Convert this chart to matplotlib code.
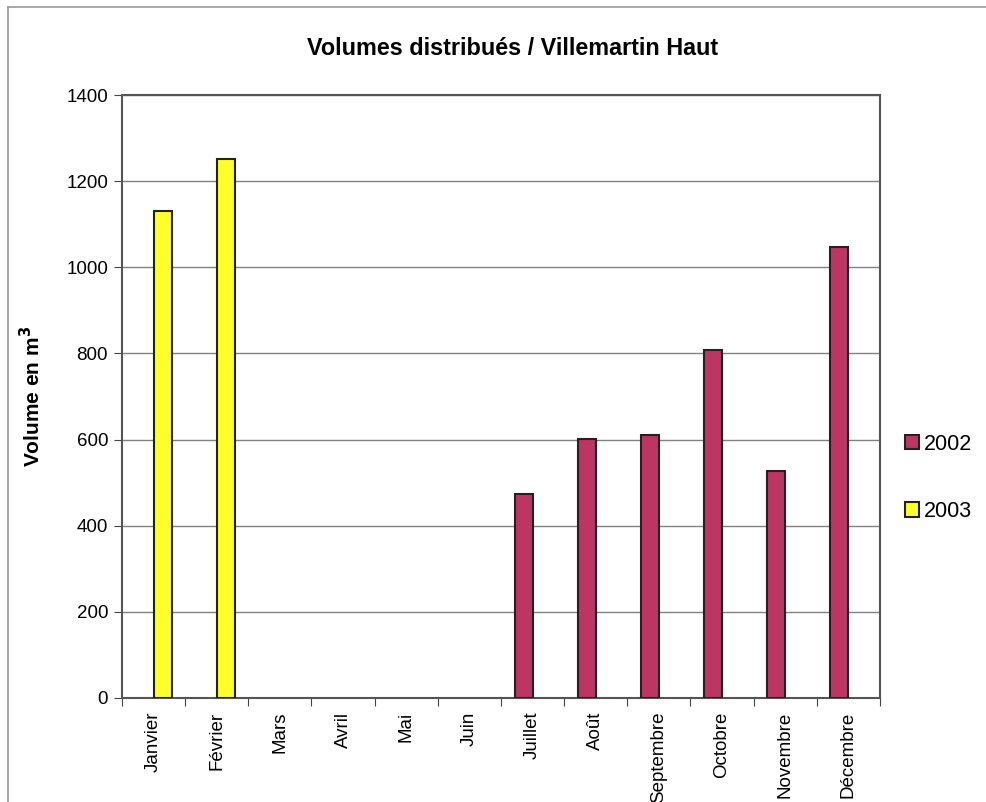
import numpy as np
from matplotlib import pyplot as plt
from matplotlib.lines import Line2D

plt.rcParams['font.family'] = ['Liberation Sans', 'DejaVu Sans']

#months on the x axis
months = ['Janvier', 'Février', 'Mars', 'Avril', 'Mai', 'Juin',
          'Juillet', 'Août', 'Septembre', 'Octobre', 'Novembre', 'Décembre']
#volumes per year (0 = no data)
vol2002 = [0, 0, 0, 0, 0, 0, 474, 601, 611, 808, 528, 1047]
vol2003 = [1131, 1251, 0, 0, 0, 0, 0, 0, 0, 0, 0, 0]
yticks = [0, 200, 400, 600, 800, 1000, 1200, 1400]

fig = plt.figure(figsize=(9.86, 8.02), dpi=100)
ax = fig.add_axes([0.1237, 0.1297, 0.7688, 0.7518])

x = np.arange(len(months))
w = 0.285
#only draw bars that have a value
for i in range(len(months)):
    if vol2002[i] > 0:
        ax.bar(x[i] - w / 2, vol2002[i], width=w, color='#BC3563',
               edgecolor='#222222', linewidth=1.5, zorder=3)
    if vol2003[i] > 0:
        ax.bar(x[i] + w / 2, vol2003[i], width=w, color='#FFFF2A',
               edgecolor='#222222', linewidth=1.5, zorder=3)

ax.set_xlim(-0.5, 11.5)
ax.set_ylim(0, 1400)
ax.set_yticks(yticks)
ax.set_yticklabels([str(v) for v in yticks], fontsize=13.5)
ax.yaxis.grid(True, color='#808080', linewidth=1.0, zorder=0)

#ticks between the months, labels in the middle
ax.set_xticks(np.arange(-0.5, 12, 1))
ax.set_xticklabels([])
ax.set_xticks(x, minor=True)
ax.set_xticklabels(months, minor=True, rotation=90, fontsize=13.5)
ax.tick_params(axis='x', which='minor', length=0, pad=10)
ax.tick_params(axis='x', which='major', length=6, color='#444444', direction='out')
ax.tick_params(axis='y', length=6, color='#444444', direction='out', pad=4)

for s in ax.spines.values():
    s.set_color('#555555')
    s.set_linewidth(1.5)

ax.set_ylabel('Volume en m$^\\mathbf{3}$', fontsize=15, fontweight='bold', labelpad=16)
fig.text(0.520, 0.940, 'Volumes distribués / Villemartin Haut',
         ha='center', va='center', fontsize=16.8, fontweight='bold')

#legend on the right
handles = [plt.Rectangle((0, 0), 1, 1, facecolor='#BC3563', edgecolor='#222222', linewidth=1.5),
           plt.Rectangle((0, 0), 1, 1, facecolor='#FFFF2A', edgecolor='#222222', linewidth=1.5)]
fig.legend(handles, ['2002', '2003'], loc='center left', bbox_to_anchor=(0.913, 0.404),
           frameon=False, fontsize=15.5, handlelength=0.65, handleheight=0.65,
           handletextpad=0.25, labelspacing=2.15, borderpad=0.2, borderaxespad=0.0)

#scanned page border at top and left
fig.add_artist(Line2D([0.008, 1.0], [0.991, 0.991], color='#999999', linewidth=1.2))
fig.add_artist(Line2D([0.008, 0.008], [0.0, 0.991], color='#999999', linewidth=1.2))

plt.savefig('out.png', dpi=100)
